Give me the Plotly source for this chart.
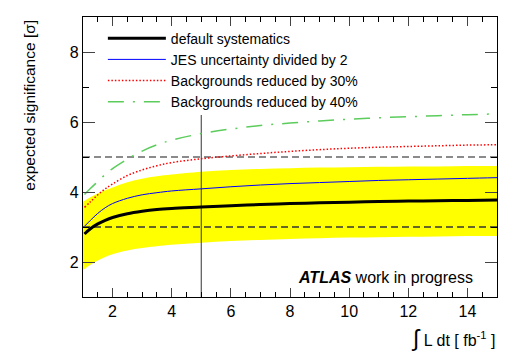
import plotly.graph_objects as go

# integrated luminosity [fb^-1]
lumi = [1.05, 1.25, 1.5, 1.75, 2, 2.5, 3, 3.5, 4, 5, 6, 7, 8, 9, 10, 11, 12, 13, 14, 15]

# expected significance for each scenario
sig_default = [2.80, 2.95, 3.09, 3.19, 3.27, 3.38, 3.45, 3.50, 3.53, 3.57,
               3.61, 3.64, 3.67, 3.69, 3.71, 3.73, 3.74, 3.75, 3.76, 3.77]
sig_jes_half = [3.02, 3.19, 3.39, 3.55, 3.67, 3.82, 3.92, 3.98, 4.03, 4.09,
                4.15, 4.20, 4.24, 4.27, 4.30, 4.33, 4.35, 4.37, 4.39, 4.41]
sig_bkg30 = [3.56, 3.72, 3.92, 4.09, 4.23, 4.47, 4.63, 4.75, 4.84, 4.95,
             5.03, 5.10, 5.16, 5.21, 5.25, 5.28, 5.30, 5.32, 5.34, 5.35]
sig_bkg40 = [3.93, 4.10, 4.30, 4.50, 4.67, 4.94, 5.17, 5.35, 5.48, 5.67,
             5.80, 5.90, 5.97, 6.03, 6.08, 6.12, 6.15, 6.18, 6.21, 6.23]

# systematic band around the default curve
lumi_band = [1.0, 1.25, 1.5, 1.75, 2, 2.5, 3, 3.5, 4, 5, 6, 7, 8, 9, 10, 11, 12, 13, 14, 15]
band_lo = [1.77, 1.92, 2.04, 2.14, 2.22, 2.33, 2.40, 2.45, 2.49, 2.55,
           2.60, 2.63, 2.66, 2.68, 2.70, 2.71, 2.72, 2.73, 2.74, 2.74]
band_hi = [3.72, 3.85, 3.96, 4.05, 4.13, 4.28, 4.38, 4.45, 4.50, 4.58,
           4.63, 4.66, 4.68, 4.70, 4.71, 4.72, 4.73, 4.73, 4.74, 4.74]

# reference lines
sig_levels = [3, 5]
lumi_ref = 5
lumi_ref_top = 6.2
x_range = [1, 15]
y_range = [1, 9]

FONT = "Liberation Sans, Arial, Helvetica, sans-serif"

fig = go.Figure()

# yellow band
fig.add_trace(go.Scatter(x=lumi_band, y=band_lo, mode='lines', line=dict(width=0, shape='spline'),
                         showlegend=False, hoverinfo='skip'))
fig.add_trace(go.Scatter(x=lumi_band, y=band_hi, mode='lines', line=dict(width=0, shape='spline'),
                         fill='tonexty', fillcolor='#ffff00', showlegend=False, hoverinfo='skip'))

# dashed significance levels
for lvl, col in zip(sig_levels, ['#333333', '#666666']):
    fig.add_trace(go.Scatter(x=x_range, y=[lvl, lvl], mode='lines',
                             line=dict(color=col, width=1.3, dash='7px,4px'),
                             showlegend=False, hoverinfo='skip'))

# vertical marker at 5 fb^-1
fig.add_trace(go.Scatter(x=[lumi_ref, lumi_ref], y=[y_range[0], lumi_ref_top], mode='lines',
                         line=dict(color='#555555', width=1.2), showlegend=False, hoverinfo='skip'))

curves = [
    ("default systematics", sig_default, dict(color='black', width=3)),
    ("JES uncertainty divided by 2", sig_jes_half, dict(color='#0000ff', width=1)),
    ("Backgrounds reduced by 30%", sig_bkg30, dict(color='#ff0000', width=1.5, dash='1.5px,2px')),
    ("Backgrounds reduced by 40%", sig_bkg40, dict(color='#5ccc5c', width=1.5, dash='16px,9px,2px,9px')),
]
for i, (name, ys, ln) in enumerate(curves):
    ln['shape'] = 'spline'
    fig.add_trace(go.Scatter(x=lumi, y=ys, mode='lines', name=name, line=ln,
                             legendgroup=name, legendrank=i + 1))

axis_common = dict(showline=True, linecolor='black', linewidth=1.2, mirror='ticks',
                   ticks='inside', showgrid=False, zeroline=False,
                   tickfont=dict(family=FONT, size=16, color='black'))

fig.update_xaxes(range=x_range, dtick=2, tick0=0, ticklen=9,
                 minor=dict(dtick=0.5, ticks='inside', ticklen=5, tickcolor='black'),
                 **axis_common)
fig.update_yaxes(range=y_range, dtick=2, tick0=0, ticklen=12,
                 minor=dict(dtick=1, ticks='inside', ticklen=6, tickcolor='black'),
                 **axis_common)

fig.add_annotation(text="<b><i>ATLAS</i></b> work in progress", xref='paper', yref='paper',
                   x=0.947, y=0.068, xanchor='right', yanchor='middle', showarrow=False,
                   font=dict(family=FONT, size=16, color='black'))
fig.add_annotation(text="expected significance [σ]", xref='paper', yref='paper',
                   x=-0.128, y=0.996, xanchor='center', yanchor='top', textangle=-90, showarrow=False,
                   font=dict(family=FONT, size=15.5, color='black'))
fig.add_annotation(text="<span style='font-size:23px'>∫</span> L dt [ fb<sup>-1</sup> ]",
                   xref='paper', yref='paper', x=1.0, y=-0.146, xanchor='right', yanchor='middle',
                   showarrow=False, font=dict(family=FONT, size=16, color='black'))

fig.update_layout(
    width=523, height=354,
    margin=dict(l=83, r=26, t=17, b=57),
    paper_bgcolor='white', plot_bgcolor='white',
    showlegend=True,
    legend=dict(x=0.048, y=0.98, xanchor='left', yanchor='top', bgcolor='rgba(0,0,0,0)',
                font=dict(family=FONT, size=14, color='black'), itemwidth=58,
                tracegroupgap=0, traceorder='grouped'),
)

# page body has a default 8px margin; remove it so the figure sits at the window corner
fig.write_html("out.html", config={'displayModeBar': False},
               post_script="document.body.style.margin='0';")
